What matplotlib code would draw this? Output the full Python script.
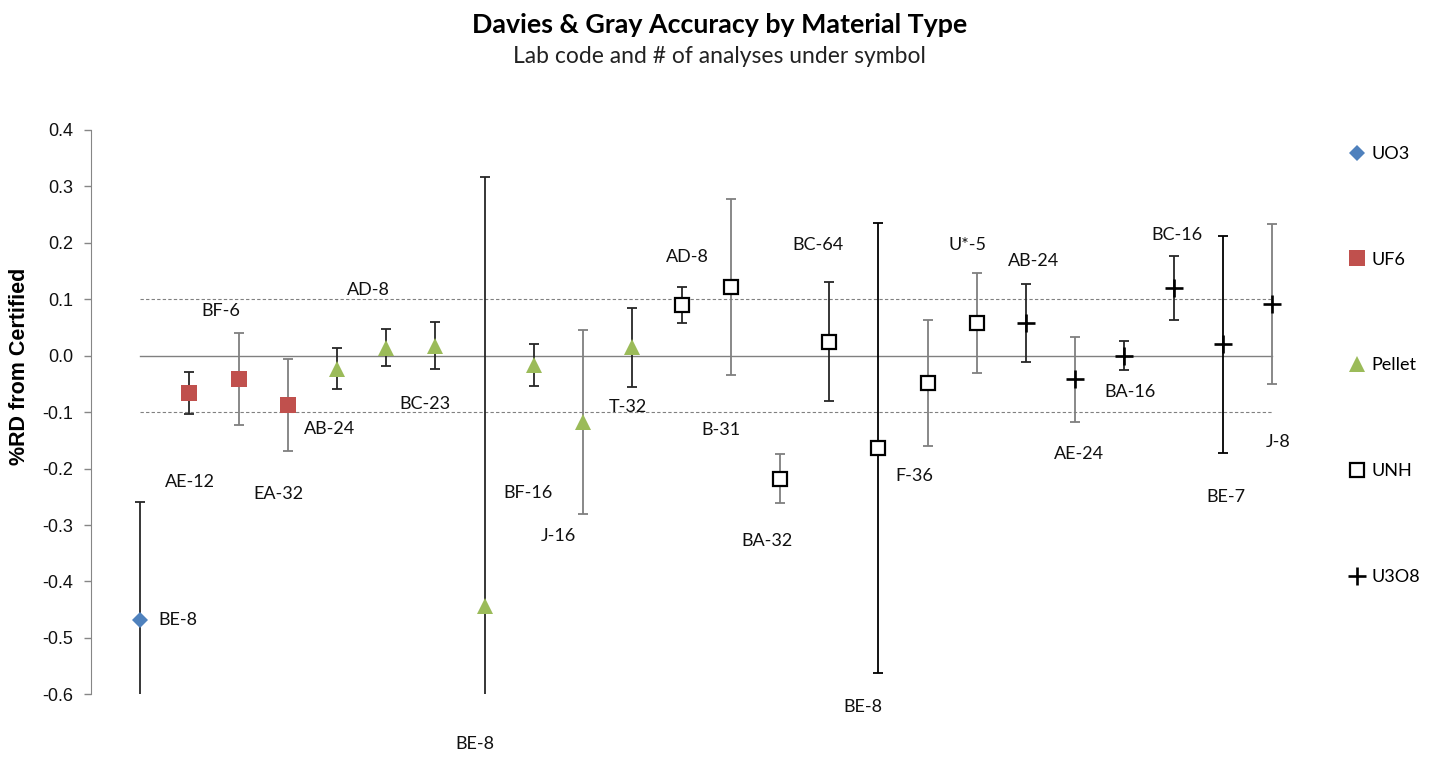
import numpy as np
import matplotlib.pyplot as plt

# ── Data ───────────────────────────────────────────────────────────────────────
lab_codes = ["BE-8", "AE-12", "BF-6", "EA-32", "AB-24", "AD-8", "BC-23", "BE-8",
             "BF-16", "J-16", "T-32", "AD-8", "B-31", "BA-32", "BC-64", "BE-8",
             "F-36", "U*-5", "AB-24", "AE-24", "BA-16", "BC-16", "BE-7", "J-8"]
material = (["UO3"] + ["UF6"] * 3 + ["Pellet"] * 7 + ["UNH"] * 7 + ["U3O8"] * 6)
rd_pct = [-0.468, -0.066, -0.041, -0.087, -0.023, 0.014, 0.018, -0.443,
          -0.016, -0.118, 0.015, 0.090, 0.122, -0.218, 0.025, -0.164,
          -0.048, 0.058, 0.058, -0.042, 0.000, 0.120, 0.020, 0.091]
rd_err = [0.209, 0.037, 0.082, 0.081, 0.036, 0.033, 0.041, 0.759,
          0.037, 0.163, 0.070, 0.032, 0.156, 0.043, 0.106, 0.399,
          0.112, 0.089, 0.069, 0.075, 0.026, 0.056, 0.193, 0.142]
ref_levels = [0.0, 0.1, -0.1]
material_order = ["UO3", "UF6", "Pellet", "UNH", "U3O8"]

# ── Styles ─────────────────────────────────────────────────────────────────────
DARK, GRAY = "#262626", "#7f7f7f"
bar_colors = [DARK, DARK, GRAY, GRAY, DARK, DARK, DARK, DARK,
              DARK, GRAY, DARK, DARK, GRAY, GRAY, DARK, "black",
              GRAY, GRAY, DARK, GRAY, DARK, DARK, "black", GRAY]
label_dx = [0.77, 0.01, -0.37, -0.19, -0.15, -0.37, -0.22, -0.20,
            -0.12, -0.50, -0.09, 0.12, -0.20, -0.26, -0.22, -0.32,
            -0.26, -0.18, 0.15, 0.07, 0.12, 0.06, 0.06, 0.13]
label_dy = [0.0, -0.157, 0.121, -0.158, -0.106, 0.102, -0.103, -0.245,
            -0.228, -0.202, -0.105, 0.085, -0.253, -0.110, 0.171, -0.459,
            -0.166, 0.138, 0.110, -0.132, -0.065, 0.094, -0.271, -0.244]
styles = {
    "UO3":    dict(marker="D", ms=8.5, mfc="#4F81BD", mec="#4F81BD", mew=0),
    "UF6":    dict(marker="s", ms=11, mfc="#C0504D", mec="#C0504D", mew=0),
    "Pellet": dict(marker="^", ms=12, mfc="#9BBB59", mec="#9BBB59", mew=0),
    "UNH":    dict(marker="s", ms=10, mfc="white", mec="black", mew=1.6),
    "U3O8":   dict(marker="+", ms=13, mfc="black", mec="black", mew=1.9),
}

x = np.arange(1, len(rd_pct) + 1)
rd = np.array(rd_pct)

fig = plt.figure(figsize=(14.39, 7.57), dpi=100)
ax = fig.add_axes([0.0632, 0.0828, 0.855, 0.7455])

# reference lines at 0 and +/-0.1 spanning the points
for lvl in ref_levels:
    ax.plot([x[0], x[-1]], [lvl, lvl], color="#808080",
            lw=1.0 if lvl == 0 else 0.8,
            ls="-" if lvl == 0 else (0, (3, 2)), zorder=1)

for i in range(len(x)):
    ax.errorbar(x[i], rd[i], yerr=rd_err[i], fmt="none", ecolor=bar_colors[i],
                elinewidth=1.3, capsize=3.6, capthick=1.3, zorder=2)

for mat in material_order:
    idx = [i for i, m in enumerate(material) if m == mat]
    ax.plot(x[idx], rd[idx], ls="none", label=mat, zorder=3, **styles[mat])

for i, code in enumerate(lab_codes):
    ax.text(x[i] + label_dx[i], rd[i] + label_dy[i], code, ha="center",
            va="center", fontsize=13, family="Lato", color="#111111",
            clip_on=False)

ax.set_xlim(0, 25)
ax.set_ylim(-0.6, 0.4)
ax.set_yticks(np.arange(-0.6, 0.41, 0.1))
ax.yaxis.set_major_formatter(plt.FuncFormatter(lambda v, p: f"{v + 0.0:.1f}".replace("-0.0", "0.0")))
ax.set_xticks([])
for s in ["top", "right", "bottom"]:
    ax.spines[s].set_visible(False)
ax.spines["left"].set_color("#868686")
ax.tick_params(axis="y", length=5, width=1, color="#868686", pad=8,
               labelsize=13, labelcolor="#111111")
for t in ax.get_yticklabels():
    t.set_family("Liberation Sans")

fig.text(20 / 1439, 1 - 366 / 757, "%RD from Certified", rotation=90,
         ha="center", va="center", fontsize=15.5, fontweight="bold",
         family="Liberation Sans")

fig.text(0.5, 1 - 33 / 757, "Davies & Gray Accuracy by Material Type",
         ha="center", va="baseline", fontsize=19.3, fontweight="bold", family="Lato")
fig.text(0.5, 1 - 63 / 757, "Lab code and # of analyses under symbol",
         ha="center", va="baseline", fontsize=16.5, family="Lato", color="#222222")

leg = ax.legend(loc="upper left", bbox_to_anchor=(1347.7 / 1439, 1 - 146 / 757),
                bbox_transform=fig.transFigure, frameon=False,
                prop={"family": "Lato", "size": 13}, handlelength=1.0,
                handletextpad=0.3, labelspacing=4.97, borderpad=0,
                borderaxespad=0, numpoints=1)

fig.savefig("out.png", dpi=100)
